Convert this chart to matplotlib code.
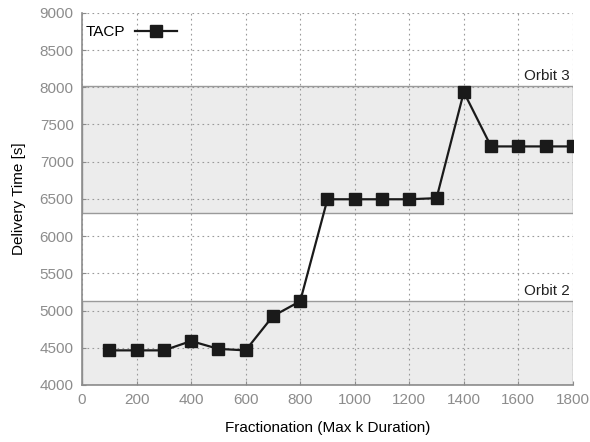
import matplotlib
matplotlib.use("Agg")
import matplotlib.pyplot as plt

plt.rcParams['font.family'] = ['Liberation Sans', 'DejaVu Sans']

# data
fractionation = [100, 200, 300, 400, 500, 600, 700, 800, 900,
                 1000, 1100, 1200, 1300, 1400, 1500, 1600, 1700, 1800]
delivery_time = [4465, 4465, 4465, 4590, 4485, 4465, 4925, 5125, 6495,
                 6495, 6495, 6495, 6510, 7935, 7205, 7205, 7205, 7205]

orbit_labels = ['Orbit 2', 'Orbit 3']
orbit_low = [4000, 6310]
orbit_high = [5135, 8020]

fig = plt.figure(figsize=(5.9, 4.42), dpi=100)
ax = fig.add_axes([0.139, 0.129, 0.832, 0.842])

grey = '#8c8c8c'
for label, lo, hi in zip(orbit_labels, orbit_low, orbit_high):
    ax.axhspan(lo, hi, facecolor='#ececec', edgecolor='#9a9a9a', linewidth=1.0, zorder=0)
    ax.text(1790, hi + 40, label, ha='right', va='bottom', fontsize=11, color='#222222')

ax.plot(fractionation, delivery_time, color='#1a1a1a', linewidth=1.6,
        marker='s', markersize=8.5, markerfacecolor='#1a1a1a', label='TACP', zorder=3)

ax.set_xlim(0, 1800)
ax.set_ylim(4000, 9000)
ax.set_xticks(range(0, 1801, 200))
ax.set_yticks(range(4000, 9001, 500))
ax.grid(True, linestyle=(0, (1.5, 3)), color='#9a9a9a', linewidth=0.8)
ax.set_axisbelow(True)

for side in ['top', 'right']:
    ax.spines[side].set_visible(False)
for side in ['left', 'bottom']:
    ax.spines[side].set_color(grey)
    ax.spines[side].set_linewidth(1.2)

ax.tick_params(direction='in', length=3, color=grey, labelcolor=grey, labelsize=11, pad=6)
ax.set_xlabel('Fractionation (Max k Duration)', fontsize=11, labelpad=10)
ax.set_ylabel('Delivery Time [s]', fontsize=11, labelpad=10)

ax.legend(loc='upper left', frameon=False, markerfirst=False, fontsize=11,
          handlelength=2.8, handletextpad=0.6, borderpad=0.2, borderaxespad=0.0,
          bbox_to_anchor=(0.002, 0.975))

fig.savefig('out.png', dpi=100)
